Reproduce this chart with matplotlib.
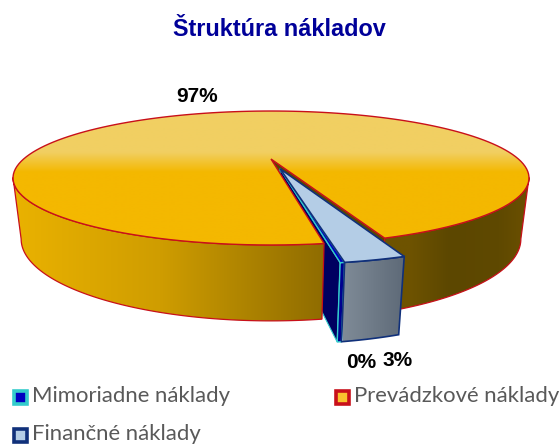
import numpy as np
import matplotlib
matplotlib.use("Agg")
import matplotlib.pyplot as plt
from matplotlib.patches import Polygon, Rectangle
from matplotlib.colors import LinearSegmentedColormap

title = "Štruktúra nákladov"
categories = ["Mimoriadne náklady", "Prevádzkové náklady", "Finančné náklady"]
values = [0.2, 97.0, 2.8]
labels = ["0%", "97%", "3%"]

START = 9.6      # first slice starts here, measured from the front of the pie, going clockwise
EXPLODE = 0.155
EXPLODE_DIR = 13.0

# perspective projection of the pie: u across, v toward viewer, h down the wall
K, CX = 247.4, 271.0
A, B, C, D, E = 16.5, 159.0, -0.2836, 0.03, 64.0


def project(u, v, h=0.0):
    w = 1 + C * np.asarray(v) + D * h
    return np.column_stack([CX + K * np.asarray(u) / w, (A * np.asarray(v) + B + E * h) / w])


def rim(t0, t1, h=0.0, off=(0.0, 0.0), n=160):
    t = np.radians(np.linspace(t0, t1, n))
    return project(np.sin(t) + off[0], np.cos(t) + off[1], h)


def centre(h=0.0, off=(0.0, 0.0)):
    return project([off[0]], [off[1]], h)


fig = plt.figure(figsize=(5.6, 4.46), dpi=100)
ax = fig.add_axes([0, 0, 1, 1])


def grad_fill(poly, stops, horizontal=True, z=1):
    lo, hi = stops[0][0], stops[-1][0]
    cmap = LinearSegmentedColormap.from_list(
        "g", [((p - lo) / (hi - lo), c) for p, c in stops])
    g = np.linspace(0, 1, 256)
    img = g[None, :] if horizontal else g[:, None]
    mn, mx = poly.min(0), poly.max(0)
    ext = (lo, hi, mx[1] + 1, mn[1] - 1) if horizontal else (mn[0] - 1, mx[0] + 1, hi, lo)
    im = ax.imshow(img, cmap=cmap, extent=ext, aspect="auto", zorder=z, interpolation="bilinear")
    im.set_clip_path(Polygon(poly, closed=True, transform=ax.transData))


# slice angles: clockwise from START
ang = np.cumsum([0] + [v * 3.6 for v in values])
m0, m1 = START, START - ang[1]
p0, p1 = m1, START - ang[2]
f0 = p1 + 360
d = np.radians(EXPLODE_DIR)
off = (EXPLODE * np.sin(d), EXPLODE * np.cos(d))

RED, NAVY, CYAN = "#C8101A", "#10307A", "#33CCCC"
SIDE_MAX = 74

# main slice inner wall, seen in the gap
q = np.vstack([centre(0), rim(f0, f0, 0, n=1), rim(f0, f0, 1, n=1), centre(1)])
ax.add_patch(Polygon(q, closed=True, fc="#5C4600", ec=RED, lw=0.9, zorder=1.5))

# navy inner wall of the small slice, behind the main slice
q = np.vstack([centre(0, off), rim(m0, m1, 0, off, 2)[-1:], rim(m0, m1, 1, off, 2)[-1:], centre(1, off)])
ax.add_patch(Polygon(q, closed=True, fc="#000060", ec=CYAN, lw=0.8, zorder=2))

# main slice: outer wall right and left, top
right = np.vstack([rim(f0, SIDE_MAX), rim(SIDE_MAX, f0, 1)])
grad_fill(right, [(270, "#6E5300"), (410, "#6E5300"), (450, "#5C4700"), (500, "#5F4900"), (528, "#6B5000")], z=4)
ax.add_patch(Polygon(right, closed=True, fc="none", ec=RED, lw=0.9, zorder=4.1))

left = np.vstack([rim(-SIDE_MAX, p0), rim(p0, -SIDE_MAX, 1)])
grad_fill(left, [(13, "#EAB200"), (160, "#CF9D00"), (325, "#8F6C00")], z=5)
ax.add_patch(Polygon(left, closed=True, fc="none", ec=RED, lw=0.9, zorder=5.1))

top = np.vstack([centre(0), rim(p0, p1)])
grad_fill(top, [(110, "#F1CF62"), (152, "#F1CF62"), (172, "#F4B800"), (246, "#F4B800")],
          horizontal=False, z=6)
ax.add_patch(Polygon(top, closed=True, fc="none", ec=RED, lw=1.0, zorder=6.1))

# small slice (exploded)
wall = np.vstack([rim(m1, m0, 0, off, 6), rim(m0, m1, 1, off, 6)])
ax.add_patch(Polygon(wall, closed=True, fc="#000090", ec=CYAN, lw=1.0, zorder=7))
tp = np.vstack([centre(0, off), rim(m1, m0, 0, off, 6)])
ax.add_patch(Polygon(tp, closed=True, fc="#0000C0", ec=CYAN, lw=1.0, zorder=7.1))

# finance slice (exploded)
wall = np.vstack([rim(m0, f0, 0, off, 20), rim(f0, m0, 1, off, 20)])
grad_fill(wall, [(343, "#7F8B97"), (404, "#5E6A78")], z=8)
ax.add_patch(Polygon(wall, closed=True, fc="none", ec=NAVY, lw=1.2, zorder=8.1))
tp = np.vstack([centre(0, off), rim(m0, f0, 0, off, 20)])
ax.add_patch(Polygon(tp, closed=True, fc="#B4CDE6", ec=NAVY, lw=1.2, zorder=8.2))

ax.set_xlim(0, 560)
ax.set_ylim(446, 0)
ax.axis("off")

ax.text(279.5, 29, title, ha="center", va="center", fontsize=16.9, fontweight="bold",
        family="Liberation Sans", color="#000099")

for lab, (x, y) in zip(labels, [(361, 363), (197, 97), (398, 360)]):
    ax.text(x, y, lab, ha="center", va="center", fontsize=15, fontweight="bold",
            family="Liberation Sans", color="black", zorder=10)

legend_pos = [(12, 397), (334, 397), (12, 435)]
legend_style = [("#0000C0", CYAN), ("#F9C22E", RED), ("#B4CDE6", NAVY)]
for cat, (x, y), (fc, ec) in zip(categories, legend_pos, legend_style):
    ax.add_patch(Rectangle((x + 1.5, y - 6.5), 13, 13, fc=fc, ec=ec, lw=2.6, zorder=10))
    ax.text(x + 20, y - 0.5, cat, ha="left", va="center", fontsize=15.9,
            family="Lato", color="#595959", zorder=10)

fig.savefig("out.png", dpi=100)
